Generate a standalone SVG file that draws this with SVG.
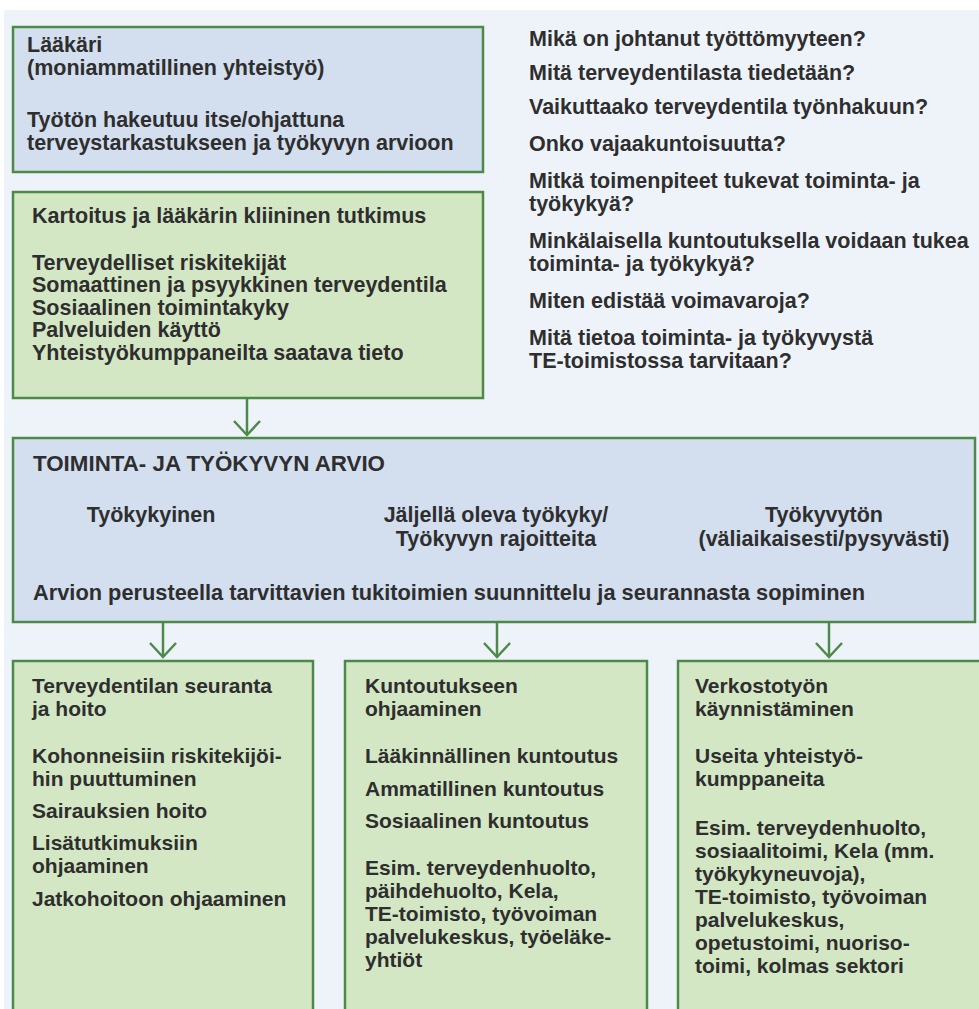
<svg xmlns="http://www.w3.org/2000/svg" width="979" height="1009" viewBox="0 0 979 1009">
  <style>
    .bg { fill: #eef3fa; }
    .blue { fill: #d3deef; stroke: #4d8a4a; stroke-width: 2.5; }
    .green { fill: #d4e7c4; stroke: #4d8a4a; stroke-width: 2.5; }
    text { font-family: "Liberation Sans", Arial, sans-serif; font-weight: bold; font-size: 21.5px; fill: #2e2e2e; }
    .sm { font-size: 21px; }
    .mid { text-anchor: middle; }
    .conn line, .conn polyline { fill: none; stroke: #4d8a4a; stroke-width: 2.5; }
  </style>

  <!-- page background -->
  <rect x="0" y="0" width="979" height="1009" fill="#ffffff"/>
  <rect class="bg" x="4" y="10" width="975" height="999"/>

  <!-- top: who and how -->
  <g id="node-laakari">
    <rect class="blue" x="13" y="27" width="470" height="145"/>
    <text x="27" y="52">Lääkäri</text>
    <text x="27" y="75">(moniammatillinen yhteistyö)</text>
    <text x="27" y="127">Työtön hakeutuu itse/ohjattuna</text>
    <text x="27" y="150">terveystarkastukseen ja työkyvyn arvioon</text>
  </g>

  <!-- questions column -->
  <g id="node-questions">
    <text x="529" y="46">Mikä on johtanut työttömyyteen?</text>
    <text x="529" y="80">Mitä terveydentilasta tiedetään?</text>
    <text x="529" y="114">Vaikuttaako terveydentila työnhakuun?</text>
    <text x="529" y="151">Onko vajaakuntoisuutta?</text>
    <text x="529" y="188">Mitkä toimenpiteet tukevat toiminta- ja</text>
    <text x="529" y="211">työkykyä?</text>
    <text x="529" y="248">Minkälaisella kuntoutuksella voidaan tukea</text>
    <text x="529" y="271">toiminta- ja työkykyä?</text>
    <text x="529" y="308">Miten edistää voimavaroja?</text>
    <text x="529" y="345">Mitä tietoa toiminta- ja työkyvystä</text>
    <text x="529" y="368">TE-toimistossa tarvitaan?</text>
  </g>

  <!-- mapping and clinical examination -->
  <g id="node-kartoitus">
    <rect class="green" x="13" y="192" width="470" height="206"/>
    <text x="32" y="223">Kartoitus ja lääkärin kliininen tutkimus</text>
    <text x="32" y="270">Terveydelliset riskitekijät</text>
    <text x="32" y="292">Somaattinen ja psyykkinen terveydentila</text>
    <text x="32" y="315">Sosiaalinen toimintakyky</text>
    <text x="32" y="337">Palveluiden käyttö</text>
    <text x="32" y="360">Yhteistyökumppaneilta saatava tieto</text>
  </g>

  <!-- assessment -->
  <g id="node-arvio">
    <rect class="blue" x="13" y="438" width="962" height="184"/>
    <text x="33" y="471" textLength="352" lengthAdjust="spacingAndGlyphs">TOIMINTA- JA TYÖKYVYN ARVIO</text>
    <text class="mid" x="151" y="522">Työkykyinen</text>
    <text class="mid" x="496" y="522">Jäljellä oleva työkyky/</text>
    <text class="mid" x="496" y="546">Työkyvyn rajoitteita</text>
    <text class="mid" x="824" y="522">Työkyvytön</text>
    <text class="mid" x="824" y="546">(väliaikaisesti/pysyvästi)</text>
    <text x="33" y="600" textLength="832" lengthAdjust="spacingAndGlyphs">Arvion perusteella tarvittavien tukitoimien suunnittelu ja seurannasta sopiminen</text>
  </g>

  <!-- follow-up boxes -->
  <g id="node-seuranta">
    <rect class="green" x="13" y="661" width="300" height="360"/>
    <text class="sm" x="32" y="693">Terveydentilan seuranta</text>
    <text class="sm" x="32" y="716">ja hoito</text>
    <text class="sm" x="32" y="763">Kohonneisiin riskitekijöi-</text>
    <text class="sm" x="32" y="786">hin puuttuminen</text>
    <text class="sm" x="32" y="818">Sairauksien hoito</text>
    <text class="sm" x="32" y="850">Lisätutkimuksiin</text>
    <text class="sm" x="32" y="873">ohjaaminen</text>
    <text class="sm" x="32" y="906">Jatkohoitoon ohjaaminen</text>
  </g>

  <g id="node-kuntoutus">
    <rect class="green" x="345" y="661" width="302" height="360"/>
    <text class="sm" x="365" y="693">Kuntoutukseen</text>
    <text class="sm" x="365" y="716">ohjaaminen</text>
    <text class="sm" x="365" y="763">Lääkinnällinen kuntoutus</text>
    <text class="sm" x="365" y="796">Ammatillinen kuntoutus</text>
    <text class="sm" x="365" y="828">Sosiaalinen kuntoutus</text>
    <text class="sm" x="365" y="875">Esim. terveydenhuolto,</text>
    <text class="sm" x="365" y="898">päihdehuolto, Kela,</text>
    <text class="sm" x="365" y="921">TE-toimisto, työvoiman</text>
    <text class="sm" x="365" y="944">palvelukeskus, työeläke-</text>
    <text class="sm" x="365" y="967">yhtiöt</text>
  </g>

  <g id="node-verkosto">
    <rect class="green" x="678" y="661" width="320" height="360"/>
    <text class="sm" x="695" y="693">Verkostotyön</text>
    <text class="sm" x="695" y="716">käynnistäminen</text>
    <text class="sm" x="695" y="763">Useita yhteistyö-</text>
    <text class="sm" x="695" y="786">kumppaneita</text>
    <text class="sm" x="695" y="835">Esim. terveydenhuolto,</text>
    <text class="sm" x="695" y="858">sosiaalitoimi, Kela (mm.</text>
    <text class="sm" x="695" y="881">työkykyneuvoja),</text>
    <text class="sm" x="695" y="904">TE-toimisto, työvoiman</text>
    <text class="sm" x="695" y="927">palvelukeskus,</text>
    <text class="sm" x="695" y="950">opetustoimi, nuoriso-</text>
    <text class="sm" x="695" y="973">toimi, kolmas sektori</text>
  </g>

  <!-- connectors: straight drops ending in open chevrons -->
  <g id="connectors" class="conn">
    <line x1="247" y1="399" x2="247" y2="435"/>
    <polyline points="234,421 247,435 260,421"/>
    <line x1="163" y1="623" x2="163" y2="657"/>
    <polyline points="150,643 163,657 176,643"/>
    <line x1="497" y1="623" x2="497" y2="657"/>
    <polyline points="484,643 497,657 510,643"/>
    <line x1="829" y1="623" x2="829" y2="657"/>
    <polyline points="816,643 829,657 842,643"/>
  </g>
</svg>
